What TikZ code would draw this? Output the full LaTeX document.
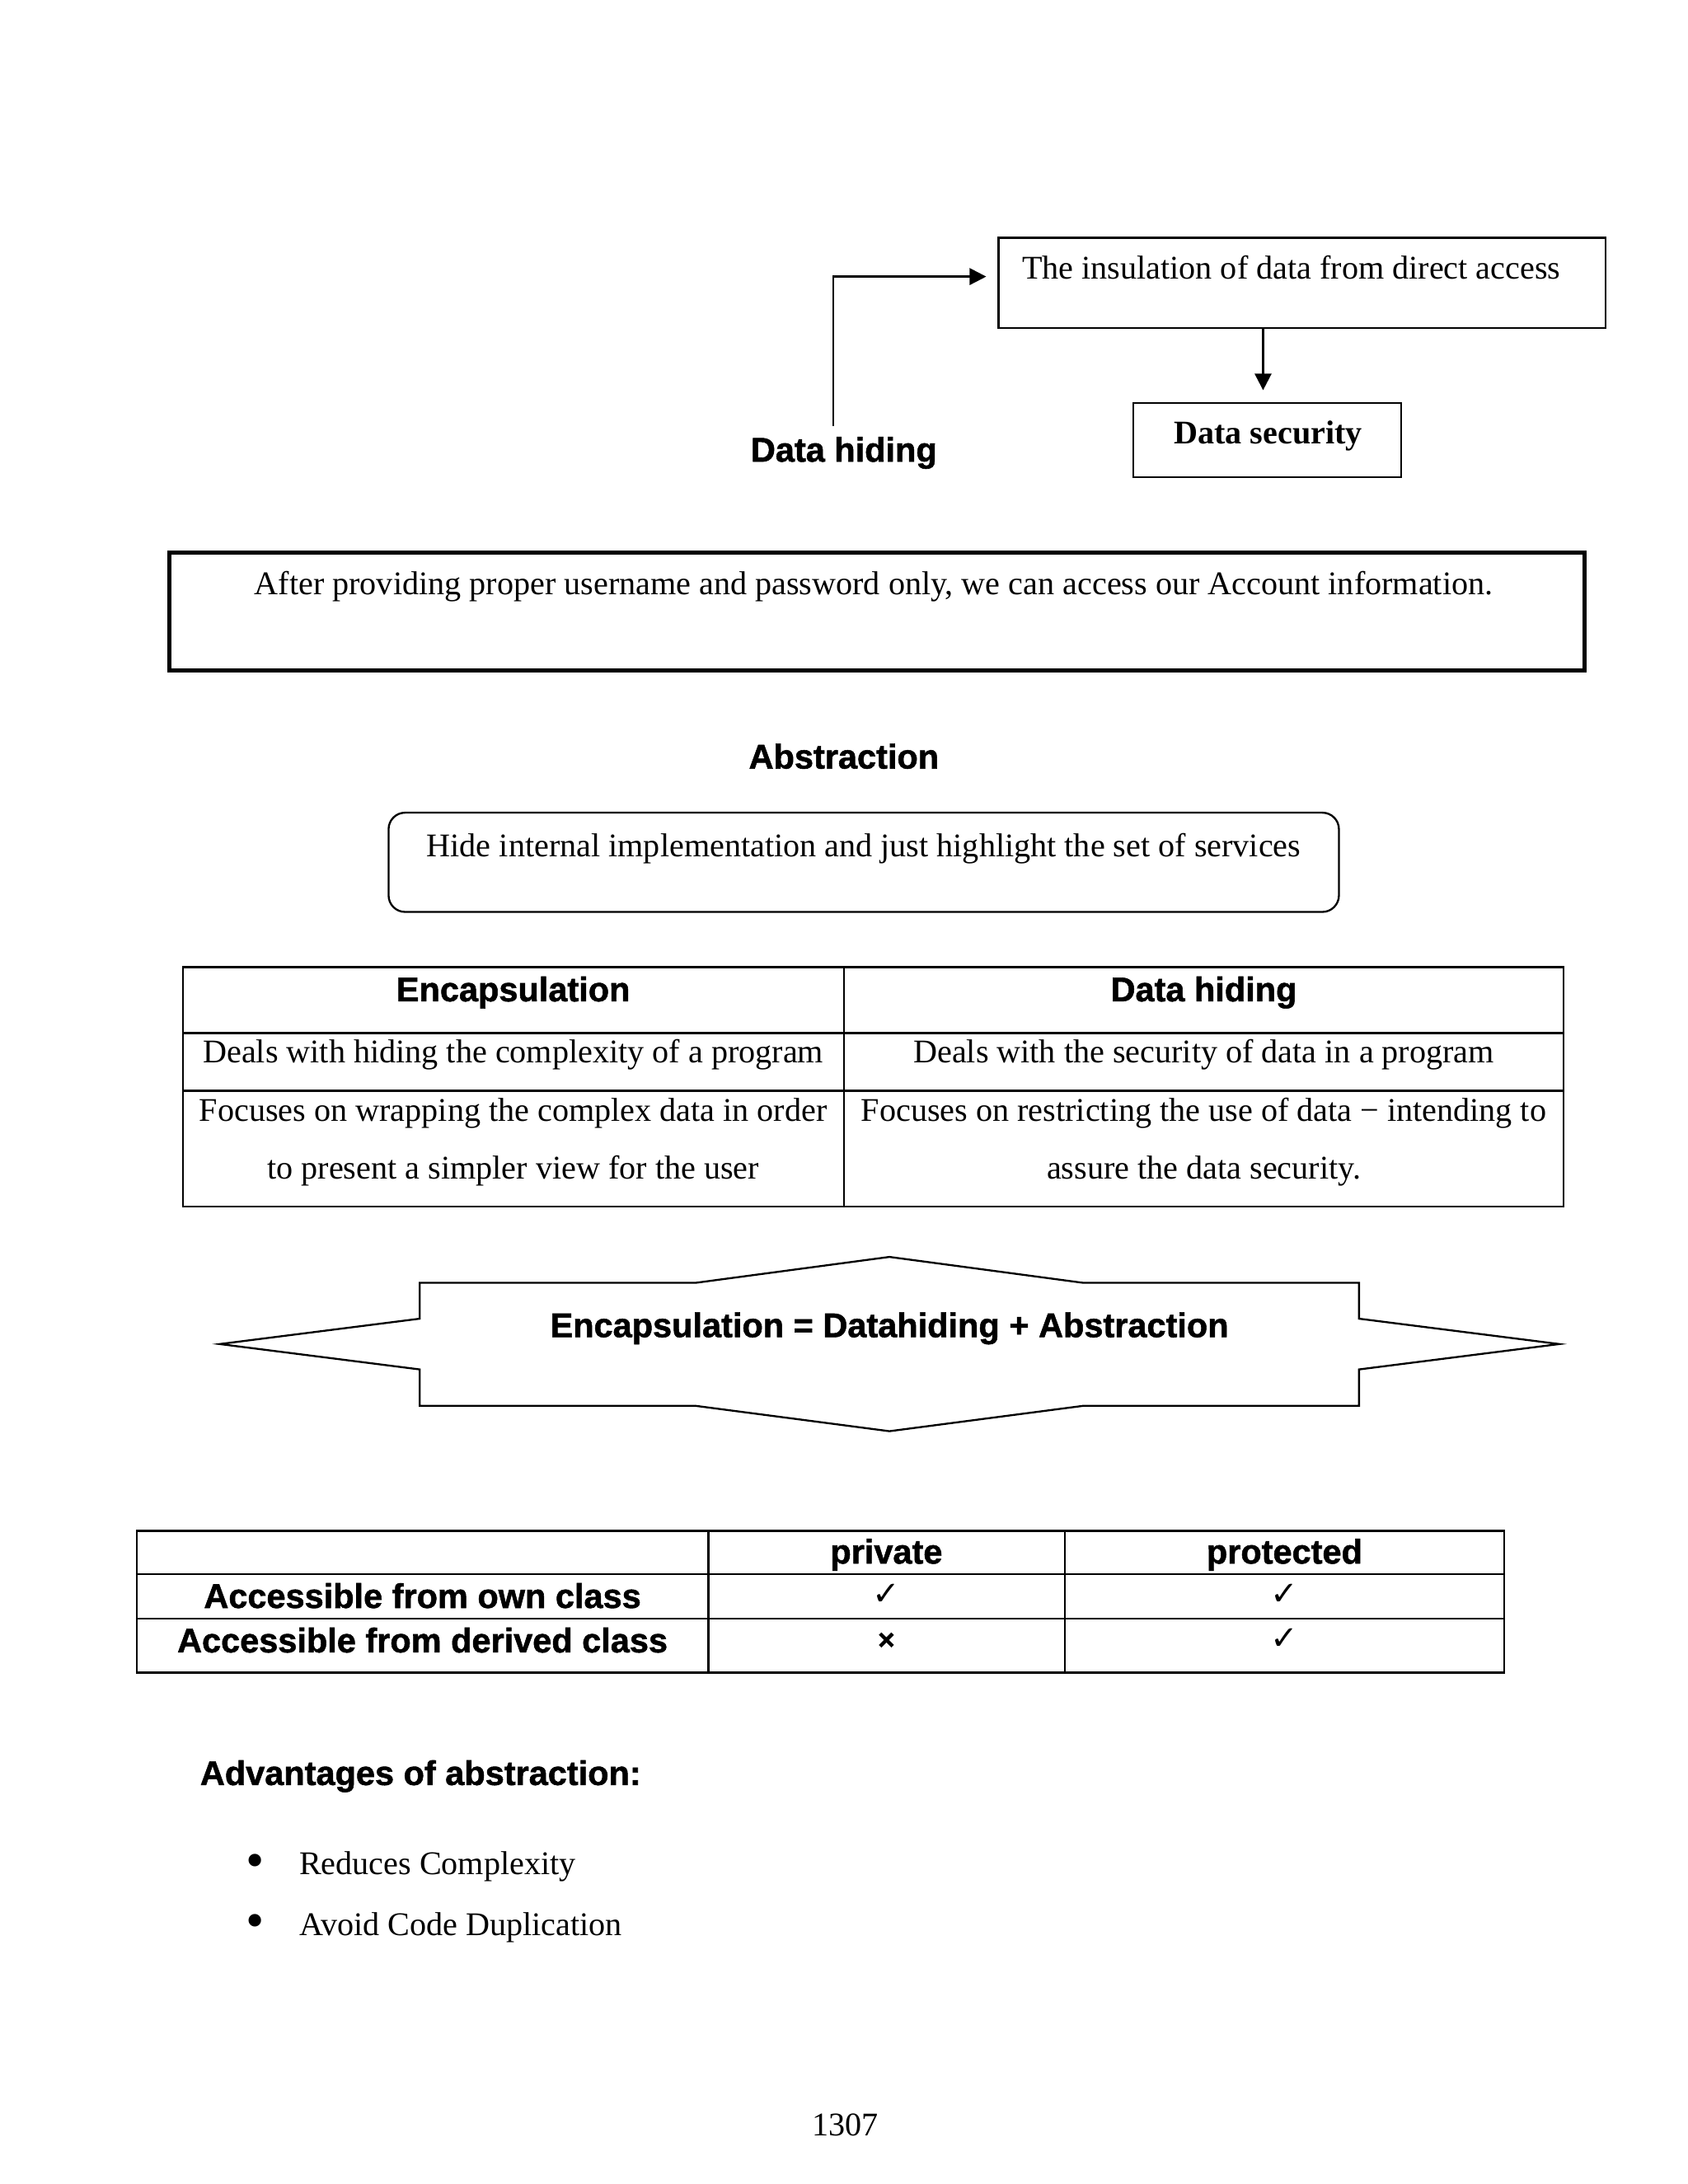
\documentclass[tikz,border=0pt]{standalone}
\usepackage{fontspec}
\setmainfont{Liberation Serif}
\setsansfont{Liberation Sans}
\newfontfamily\hdfont{Liberation Sans}[BoldFeatures={FakeBold=1.3}]
\newfontfamily\symfont{DejaVu Sans}
\usetikzlibrary{arrows.meta}
\begin{document}
\begin{tikzpicture}[x=1pt,y=-1pt,
  txt/.style={inner sep=0pt, anchor=base, font=\fontsize{12}{14}\selectfont},
  txtl/.style={txt, anchor=base west},
  txtb/.style={txt, font=\fontsize{12}{14}\selectfont\bfseries},
  hd/.style={inner sep=0pt, anchor=base, font=\fontsize{12.4}{14}\selectfont\hdfont\bfseries},
  hdl/.style={hd, anchor=base west},
  frame/.style={draw, inner sep=0pt, outer sep=0pt, anchor=north west, line width=0.7pt},
  arr/.style={line width=0.75pt, -{Triangle[length=6pt,width=6pt]}},
  tline/.style={line width=0.75pt},
  sym/.style={inner sep=0pt, anchor=base, font=\fontsize{12}{14}\selectfont\symfont},
  xsym/.style={inner sep=0pt, anchor=base, font=\fontsize{10.5}{12}\selectfont\hdfont\bfseries},
  bul/.style={inner sep=0pt, anchor=center, font=\fontsize{19}{20}\selectfont}
]
\useasboundingbox (0,0) rectangle (612,792);
\fill[white] (0,0) rectangle (612,792);

% --- top diagram
\node[frame, minimum width=220.1pt, minimum height=32.8pt] (ins) at (362.1,86.2) {};
\node[txtl] (inst) at (370.4,101.1) {The insulation of data from direct access};
\node[frame, minimum width=97.1pt, minimum height=26.9pt] (ds) at (410.9,146.2) {};
\node[txtb] (dst) at (459.8,161.0) {Data security};
\node[hd] (dh) at (306,167.4) {Data hiding};
\coordinate (dhtop) at (302.2,154.4);
\coordinate (instip) at (357.6,100.3);
\coordinate (dstip) at (458,141.5);
\draw[arr] (dhtop) |- (instip);
\draw[arr] (ins.south -| dstip) -- (dstip);

% --- account box
\node[draw, line width=1.5pt, inner sep=0pt, anchor=north west, minimum width=513pt, minimum height=42.7pt] (acc) at (60.8,199.7) {};
\node[txt] (acct) at (316.8,215.5) {After providing proper username and password only, we can access our Account information.};

% --- abstraction
\node[hd] (abs) at (306,278.7) {Abstraction};
\node[frame, rounded corners=6pt, minimum width=344.6pt, minimum height=36pt] (hide) at (140.9,294.7) {};
\node[txt] (hidet) at (313.2,310.6) {Hide internal implementation and just highlight the set of services};

% --- comparison table
\draw[tline] (66.3,350.7) rectangle (566.9,437.5);
\draw[tline] (306,350.7) -- (306,437.5);
\draw[tline] (66.3,374.6) -- (566.9,374.6);
\draw[tline] (66.3,395.5) -- (566.9,395.5);
\node[hd] (h1) at (186.1,363.1) {Encapsulation};
\node[hd] (h2) at (436.5,363.1) {Data hiding};
\node[txt] (c11) at (186.1,385.5) {Deals with hiding the complexity of a program};
\node[txt] (c12) at (436.5,385.5) {Deals with the security of data in a program};
\node[txt] (c21a) at (186.1,406.7) {Focuses on wrapping the complex data in order};
\node[txt] (c21b) at (186.1,427.6) {to present a simpler view for the user};
\node[txt] (c22a) at (436.5,406.7) {Focuses on restricting the use of data − intending to};
\node[txt] (c22b) at (436.5,427.6) {assure the data security.};

% --- star
\draw[line width=0.7pt, line join=miter]
  (79.7,487.4) -- (152.2,478.2) -- (152.2,465.2) -- (252.2,465.2) -- (322.5,455.8)
  -- (392.8,465.2) -- (492.8,465.2) -- (492.8,478.2) -- (565.4,487.4) -- (492.8,496.6)
  -- (492.8,509.8) -- (392.8,509.8) -- (322.5,519) -- (252.2,509.8) -- (152.2,509.8)
  -- (152.2,496.6) -- cycle;
\node[hd] (eq) at (322.5,484.9) {Encapsulation = Datahiding + Abstraction};

% --- access table
\draw[line width=0.8pt] (49.6,555.1) rectangle (545.4,606.6);
\draw[line width=0.8pt] (256.8,555.1) -- (256.8,606.6);
\draw[line width=0.8pt] (386.1,555.1) -- (386.1,606.6);
\draw[line width=0.8pt] (49.6,570.8) -- (545.4,570.8);
\draw[line width=0.8pt] (49.6,587.0) -- (545.4,587.0);
\node[hd] (pv) at (321.4,567) {private};
\node[hd] (pt) at (465.75,567) {protected};
\node[hd] (r1) at (153.2,583.1) {Accessible from own class};
\node[hd] (r2) at (153.2,599.2) {Accessible from derived class};
\node[sym] (k11) at (321.4,582) {✓};
\node[sym] (k12) at (465.75,582) {✓};
\node[xsym] (k21) at (321.4,598.2) {×};
\node[sym] (k22) at (465.75,598.2) {✓};

% --- advantages
\node[hdl] (adv) at (72.4,647.3) {Advantages of abstraction:};
\node[bul] (b1) at (92.5,676.6) {•};
\node[txtl] (l1) at (108.3,679.9) {Reduces Complexity};
\node[bul] (b2) at (92.5,698.5) {•};
\node[txtl] (l2) at (108.3,701.8) {Avoid Code Duplication};

% --- page number
\node[txt] (pg) at (306.4,774.6) {1307};
\end{tikzpicture}
\end{document}
